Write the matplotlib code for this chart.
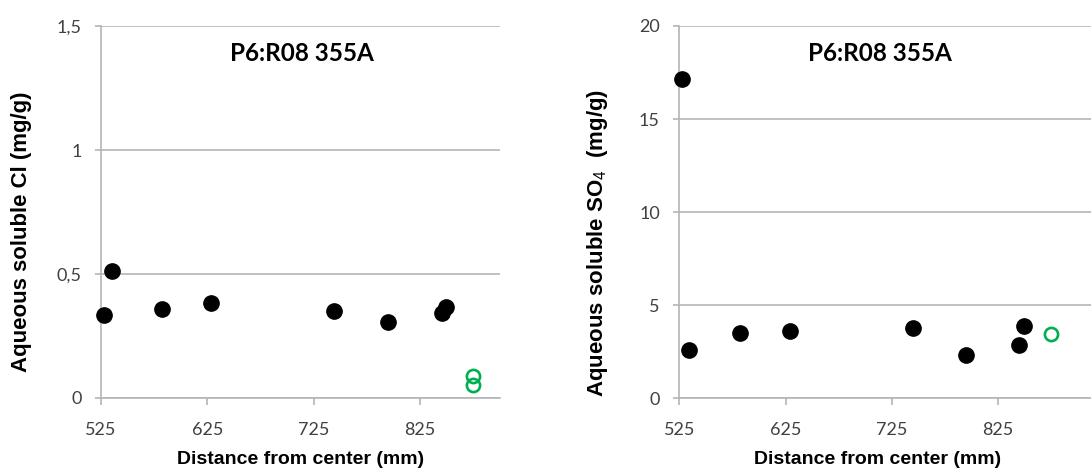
import matplotlib
matplotlib.use("Agg")
import matplotlib.pyplot as plt

plt.rcParams['mathtext.fontset'] = 'custom'
plt.rcParams['mathtext.rm'] = 'Liberation Sans'
plt.rcParams['mathtext.bf'] = 'Liberation Sans:bold'

# Sample: P6:R08 355A — aqueous soluble ions vs. radial distance
cl_dist = [527.8, 535.6, 582.6, 628.0, 744.0, 794.8, 845.2, 849.6]
cl_vals = [0.335, 0.513, 0.358, 0.384, 0.352, 0.308, 0.342, 0.368]
cl_ref_dist = [874.6, 874.6]
cl_ref_vals = [0.090, 0.052]

so4_dist = [527.2, 534.4, 581.8, 628.9, 744.6, 794.7, 844.8, 849.0]
so4_vals = [17.17, 2.60, 3.49, 3.62, 3.80, 2.33, 2.87, 3.90]
so4_ref_dist = [874.3]
so4_ref_vals = [3.46]

x_ticks = [525, 625, 725, 825]
x_tick_labels = ["525", "625", "725", "825"]
cl_ticks = [0, 0.5, 1, 1.5]
cl_tick_labels = ["0", "0,5", "1", "1,5"]
so4_ticks = [0, 5, 10, 15, 20]
so4_tick_labels = ["0", "5", "10", "15", "20"]

title_text = "P6:R08 355A"
xlabel_text = "Distance from center (mm)"
cl_ylabel = "Aqueous soluble Cl (mg/g)"
so4_ylabel = r"Aqueous soluble SO$_{4}$  (mg/g)"

W, H = 1091, 469
fig = plt.figure(figsize=(W / 100, H / 100), dpi=100)

grid_c = "#b5b5b5"
tick_c = "#404040"
green = "#00b050"


def px(x, y):
    return x / W, 1 - y / H


def style_axes(ax, xlim, ylim, yticks, ylabels):
    ax.set_xlim(*xlim)
    ax.set_ylim(*ylim)
    ax.set_xticks(x_ticks)
    ax.set_xticklabels(x_tick_labels)
    ax.set_yticks(yticks)
    ax.set_yticklabels(ylabels)
    ax.grid(axis="y", color=grid_c, lw=1.2)
    ax.set_axisbelow(True)
    for s in ("top", "right"):
        ax.spines[s].set_visible(False)
    for s in ("left", "bottom"):
        ax.spines[s].set_color(grid_c)
        ax.spines[s].set_linewidth(1.2)
    ax.tick_params(axis="x", length=5, width=1.2, color=grid_c, pad=12,
                   labelsize=13, labelcolor=tick_c)
    ax.tick_params(axis="y", length=4, width=1.2, color=grid_c, pad=10,
                   labelsize=13, labelcolor=tick_c)
    for lab in ax.get_xticklabels() + ax.get_yticklabels():
        lab.set_fontfamily("Lato")
    ax.text(714, 0.927, title_text, transform=ax.get_xaxis_transform(),
            ha="center", va="center", fontsize=17.5, fontweight="bold",
            family="Lato")


def draw_points(ax, xs, ys, rxs, rys):
    ax.plot(xs, ys, "o", color="black", ms=11, mec="black", ls="none",
            clip_on=False, zorder=3)
    ax.plot(rxs, rys, "o", mfc="none", mec=green, mew=1.9, ms=9.5,
            ls="none", clip_on=False, zorder=3)


# Left panel: chloride
ax1 = fig.add_axes([101 / W, 1 - 398 / H, 399 / W, 372 / H])
style_axes(ax1, (525, 900), (0, 1.5), cl_ticks, cl_tick_labels)
draw_points(ax1, cl_dist, cl_vals, cl_ref_dist, cl_ref_vals)

# Right panel: sulphate
ax2 = fig.add_axes([679.3 / W, 1 - 398.3 / H, 425.2 / W, 372.3 / H])
style_axes(ax2, (525, 925), (0, 20), so4_ticks, so4_tick_labels)
draw_points(ax2, so4_dist, so4_vals, so4_ref_dist, so4_ref_vals)

# Axis titles
lab_kw = dict(fontweight="bold", family="Liberation Sans", color="black")
fig.text(*px(301, 459), xlabel_text, ha="center", va="center", fontsize=14, **lab_kw)
fig.text(*px(878, 459), xlabel_text, ha="center", va="center", fontsize=14, **lab_kw)
fig.text(*px(22, 231.5), cl_ylabel, ha="center", va="center", rotation=90,
         fontsize=16, **lab_kw)
fig.text(*px(598, 242.5), so4_ylabel, ha="center", va="center", rotation=90,
         fontsize=16, **lab_kw)

fig.savefig("out.png", dpi=100)
